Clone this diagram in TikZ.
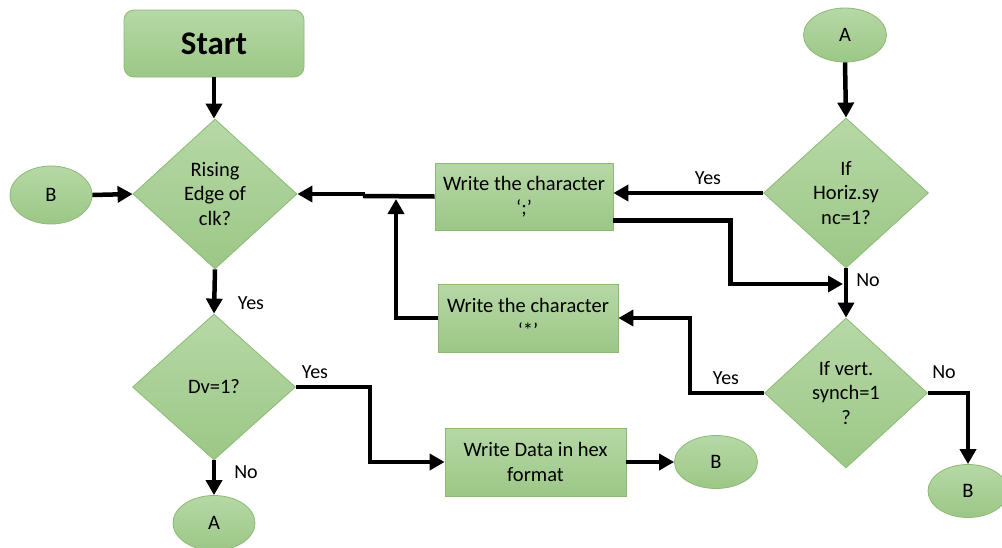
\documentclass[tikz,border=0pt]{standalone}
\usepackage{fontspec}
\setmainfont{Carlito}
\usetikzlibrary{shapes.geometric,arrows.meta}
\definecolor{gtop}{RGB}{182,216,166}
\definecolor{gbot}{RGB}{156,199,134}
\definecolor{gline}{RGB}{140,186,116}
\tikzset{
  shape base/.style={draw=gline, line width=0.8pt, top color=gtop, bottom color=gbot,
    inner sep=0pt, align=center, font=\fontsize{20.5}{24.5}\selectfont},
  startbox/.style={shape base, rectangle, rounded corners=10pt, minimum width=180pt,
    minimum height=67pt, font=\fontsize{33}{36}\selectfont\bfseries},
  procbox/.style={shape base, rectangle, minimum width=180pt, minimum height=68pt},
  decision/.style={shape base, diamond, minimum width=164pt, minimum height=150pt},
  connector/.style={shape base, ellipse, minimum width=82pt, minimum height=55pt},
  arr/.style={line width=4.5pt, -{Triangle[length=15pt,width=16pt]}},
  seg/.style={line width=4.5pt},
  lbl/.style={font=\fontsize{20}{24}\selectfont, inner sep=0pt}
}
\begin{document}
\begin{tikzpicture}[x=1pt,y=-1pt]
\useasboundingbox (0,0) rectangle (1002,547);

% left column
\node[startbox] (start) at (214,43.5) {Start};
\node[decision] (d1) at (215,194) {Rising\\Edge of\\clk?};
\node[connector, minimum height=58pt] (b1) at (51,195) {B};
\node[decision, minimum width=163pt, minimum height=146pt] (d2) at (214,387) {Dv=1?};
\node[connector] (a2) at (214,523) {A};

% middle column
\node[procbox, minimum width=178pt, minimum height=67pt] (w1) at (524,196.5) {Write the character\\‘;’};
\node[procbox] (w2) at (528,318) {Write the character\\‘*’};
\node[procbox, minimum width=181pt] (wd) at (535.5,462) {Write Data in hex\\format};
\node[connector, minimum width=83pt, minimum height=53pt] (b2) at (716,462) {B};

% right column
\node[connector, minimum width=83pt, minimum height=54pt] (a1) at (845,35) {A};
\node[decision, minimum width=165pt] (d3) at (846,193) {If\\Horiz.sy\\nc=1?};
\node[decision, minimum width=163pt, minimum height=150pt] (d4) at (846,393) {If vert.\\synch=1\\?};
\node[connector, minimum width=80pt, minimum height=53pt] (b3) at (968,491) {B};

% junction points
\coordinate (j1) at (365,196);
\coordinate (j2) at (396,199);
\coordinate (jn) at (843,284);

% connectors
\draw[arr] (start.south) -- (start.south |- d1.north);
\draw[arr] (b1.east) -- (d1.west);
\draw[arr] (d1.south) -- (d2.north);
\draw[arr] (d2.south) -- (a2.north);
\draw[arr] (d2.east) -- ++(74,0) |- (wd.west);
\draw[arr] (wd.east) -- (b2.west);
\draw[arr] (a1.south) -- (d3.north);
\draw[arr] (d3.west) -- (w1.east |- d3.west);
\draw[arr] (d3.south) -- (d4.north);
\draw[arr] ([yshift=-24pt]w1.east) -- ++(117,0) |- (jn);
\draw[arr] (d4.west) -- ++(-74,0) |- (w2.east);
\draw[arr] (d4.east) -| (b3.north);
\draw[seg] (w1.west) -- (j1) -- (j1 |- d1.east);
\draw[arr] (j1 |- d1.east) -- (d1.east);
\draw[arr] (w2.west) -| (j2);

% branch labels
\node[lbl] (l1) at (251,303) {Yes};
\node[lbl] (l2) at (315,372) {Yes};
\node[lbl] (l3) at (246,472) {No};
\node[lbl] (l4) at (708,178) {Yes};
\node[lbl] (l5) at (868,280) {No};
\node[lbl] (l6) at (726,378) {Yes};
\node[lbl] (l7) at (944,372) {No};
\end{tikzpicture}
\end{document}
